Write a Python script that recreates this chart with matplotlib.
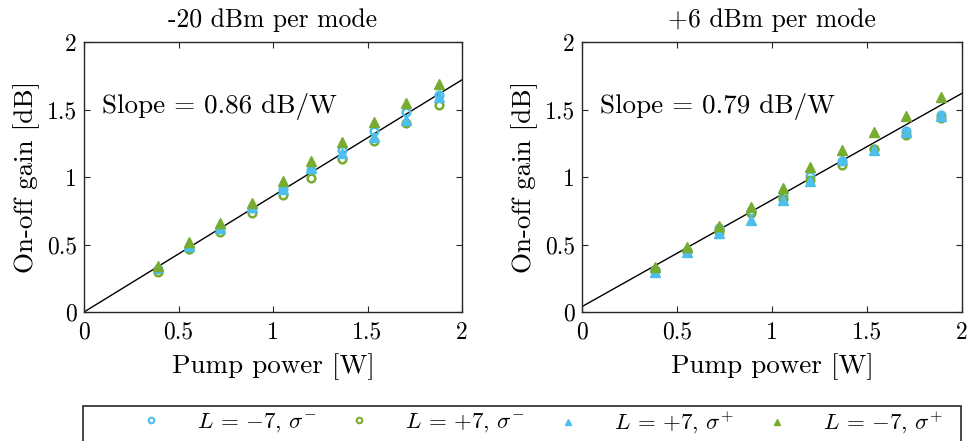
import matplotlib
matplotlib.use("Agg")
import matplotlib.pyplot as plt
import numpy as np
from matplotlib.patches import Rectangle
from matplotlib.lines import Line2D

plt.rcParams['font.family'] = ['cmr10', 'DejaVu Serif']
plt.rcParams['mathtext.fontset'] = 'cm'
plt.rcParams['axes.formatter.use_mathtext'] = True

BLUE = '#4DBEEE'
GREEN = '#77AC30'

# Pump power [W]
pump_left = [0.39, 0.555, 0.72, 0.89, 1.055, 1.20, 1.365, 1.535, 1.705, 1.88]
pump_right = [0.385, 0.553, 0.719, 0.889, 1.057, 1.20, 1.37, 1.537, 1.705, 1.887]

# Left panel: -20 dBm per mode
left_Lm7_sm = [0.32, 0.47, 0.62, 0.77, 0.91, 1.05, 1.20, 1.34, 1.48, 1.61]
left_Lp7_sm = [0.30, 0.47, 0.59, 0.73, 0.87, 0.99, 1.13, 1.27, 1.40, 1.53]
left_Lp7_sp = [0.33, 0.49, 0.62, 0.78, 0.91, 1.07, 1.18, 1.30, 1.42, 1.59]
left_Lm7_sp = [0.34, 0.52, 0.66, 0.81, 0.97, 1.12, 1.26, 1.41, 1.55, 1.69]

# Right panel: +6 dBm per mode
right_Lm7_sm = [0.31, 0.455, 0.62, 0.75, 0.86, 1.005, 1.12, 1.21, 1.34, 1.46]
right_Lp7_sm = [0.31, 0.455, 0.59, 0.73, 0.84, 0.975, 1.09, 1.205, 1.31, 1.44]
right_Lp7_sp = [0.30, 0.445, 0.585, 0.685, 0.83, 0.97, 1.13, 1.20, 1.33, 1.45]
right_Lm7_sp = [0.33, 0.485, 0.635, 0.78, 0.92, 1.075, 1.20, 1.33, 1.45, 1.59]

slopes = [0.86, 0.79]
intercepts = [0.0, 0.04]
titles = ['-20 dBm per mode', '+6 dBm per mode']
ticks = [0, 0.5, 1, 1.5, 2]
tick_labels = ['0', '0.5', '1', '1.5', '2']
labels = [r'$L$ = $-7$, $\sigma^{-}$', r'$L$ = $+7$, $\sigma^{-}$',
          r'$L$ = $+7$, $\sigma^{+}$', r'$L$ = $-7$, $\sigma^{+}$']

W, H = 967, 441
fig = plt.figure(figsize=(W / 100, H / 100), dpi=100)

axes_px = [(84, 462), (582, 962)]
top_px, bot_px = 42, 312

panels = [
    (pump_left, left_Lm7_sm, left_Lp7_sm, left_Lp7_sp, left_Lm7_sp),
    (pump_right, right_Lm7_sm, right_Lp7_sm, right_Lp7_sp, right_Lm7_sp),
]

TICK_FS = 17
LAB_FS = 19.5
TITLE_FS = 18.5
SLOPE_FS = 19.5
LEG_FS = 16.5
for i, (x0, x1) in enumerate(axes_px):
    ax = fig.add_axes([x0 / W, 1 - bot_px / H, (x1 - x0) / W, (bot_px - top_px) / H])
    x, a, b, c, d = panels[i]
    xl = np.array([0, 2])
    ax.plot(xl, intercepts[i] + slopes[i] * xl, color='black', lw=1.0, zorder=2)
    ax.plot(x, a, 'o', ms=5.5, mfc='none', mec=BLUE, mew=1.8, ls='none', zorder=3)
    ax.plot(x, b, 'o', ms=5.5, mfc='none', mec=GREEN, mew=1.8, ls='none', zorder=3)
    ax.plot(x, c, '^', ms=7, color=BLUE, ls='none', zorder=3)
    ax.plot(x, d, '^', ms=7, color=GREEN, ls='none', zorder=3)
    ax.set_xlim(0, 2)
    ax.set_ylim(0, 2)
    ax.set_xticks(ticks)
    ax.set_xticklabels(tick_labels)
    ax.set_yticks(ticks)
    ax.set_yticklabels(tick_labels)
    ax.tick_params(direction='in', top=True, right=True, length=4, width=0.8,
                   labelsize=TICK_FS, color='#262626')
    ax.tick_params(axis='x', pad=7)
    ax.tick_params(axis='y', pad=5)
    for s in ax.spines.values():
        s.set_linewidth(1.0)
        s.set_color('#262626')
    ax.set_xlabel('Pump power [W]', fontsize=LAB_FS, labelpad=7)
    ax.set_ylabel('On-off gain [dB]', fontsize=LAB_FS, labelpad=5)
    ax.set_title(titles[i], fontsize=TITLE_FS, pad=11)
    ax.text(0.095, 1.52, 'Slope = %.2f dB/W' % slopes[i], fontsize=SLOPE_FS,
            va='center', ha='left')

# Legend frame
fig.patches.append(Rectangle((83 / W, 1 - 445 / H), 878 / W, 39 / H, transform=fig.transFigure,
                             fill=False, edgecolor='#262626', lw=1.2))
handles = [
    Line2D([], [], marker='o', ms=4, mfc='none', mec=BLUE, mew=1.5, ls='none'),
    Line2D([], [], marker='o', ms=4, mfc='none', mec=GREEN, mew=1.5, ls='none'),
    Line2D([], [], marker='^', ms=5, color=BLUE, ls='none'),
    Line2D([], [], marker='^', ms=5, color=GREEN, ls='none'),
]
# one legend entry per column, anchored at the marker positions of the reference
marker_px = [151, 359, 568, 777]
em_px = LEG_FS * 100 / 72
for h, lab, mx in zip(handles, labels, marker_px):
    fig.legend([h], [lab], loc='center left',
               bbox_to_anchor=((mx - em_px) / W, 1 - 423 / H),
               frameon=False, fontsize=LEG_FS, handlelength=2.0, handletextpad=1.0,
               borderaxespad=0, borderpad=0)

fig.savefig('out.png', dpi=100)
